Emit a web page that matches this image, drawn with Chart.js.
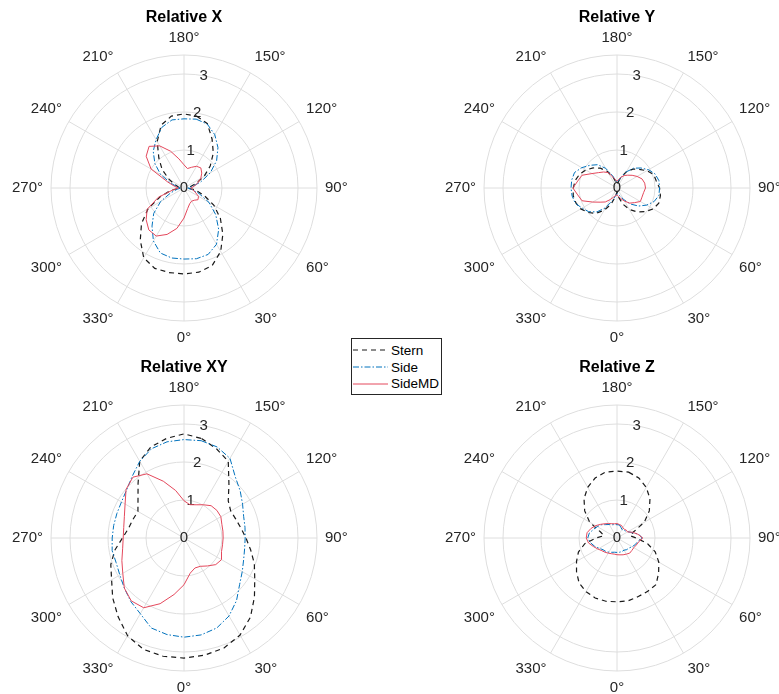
<!DOCTYPE html>
<html>
<head>
<meta charset="utf-8">
<script src="https://cdn.jsdelivr.net/npm/chart.js@4.4.1/dist/chart.umd.min.js"></script>
<style>
    body {
        margin: 0;
        width: 779px;
        height: 694px;
        overflow: hidden;
        position: relative;
        background: #fff;
        font-family: 'Liberation Sans', Arial, sans-serif;
    }
    canvas { position: absolute; }
    #legend {
        position: absolute;
        left: 351px;
        top: 338px;
        width: 91px;
        height: 57px;
        box-sizing: border-box;
        border: 1px solid #262626;
        background: #fff;
        padding-top: 3px;
        z-index: 5;
    }
    #legend .row {
        display: flex;
        align-items: center;
        height: 16.7px;
        font-size: 13.5px;
        color: #000;
    }
    #legend svg { display: block; margin-right: 2px; }
</style>
</head>
<body>
<canvas id="relX" width="400" height="348" style="left:-16px;top:0px"></canvas>
<canvas id="relY" width="400" height="348" style="left:417px;top:0px"></canvas>
<canvas id="relXY" width="400" height="348" style="left:-16px;top:350px"></canvas>
<canvas id="relZ" width="400" height="348" style="left:417px;top:350px"></canvas>
<div id="legend"></div>

<script>
// sample angles in degrees (0 = bottom, 90 = right, 180 = top)
const angles = [0, 10, 20, 30, 40, 50, 60, 70, 80, 90, 100, 110, 120, 130, 140, 150, 160, 170,
                180, 190, 200, 210, 220, 230, 240, 250, 260, 270, 280, 290, 300, 310, 320, 330, 340, 350];
const angleTicks = [0, 30, 60, 90, 120, 150, 180, 210, 240, 270, 300, 330];
const radiusTicks = [0, 1, 2, 3];
const radiusMax = 3.5;

const seriesNames = ['Stern', 'Side', 'SideMD'];

// Relative X
const xStern  = [2.26, 2.25, 2.17, 1.93, 1.59, 1.25, 0.91, 0.56, 0.30, 0.10, 0.15, 0.33, 0.61, 0.90, 1.20, 1.48, 1.80, 1.92,
                 1.95, 1.92, 1.76, 1.41, 1.03, 0.75, 0.45, 0.25, 0.15, 0.10, 0.35, 0.66, 1.09, 1.46, 1.79, 2.12, 2.25, 2.26];
const xSide   = [1.87, 1.89, 1.86, 1.71, 1.42, 1.09, 0.76, 0.42, 0.20, 0.10, 0.22, 0.47, 0.80, 1.12, 1.39, 1.62, 1.79, 1.84,
                 1.82, 1.82, 1.70, 1.47, 1.26, 1.00, 0.71, 0.37, 0.18, 0.08, 0.18, 0.37, 0.71, 1.04, 1.31, 1.61, 1.82, 1.87];
const xSideMD = [0.79, 0.55, 0.44, 0.40, 0.42, 0.48, 0.44, 0.31, 0.22, 0.18, 0.28, 0.38, 0.51, 0.61, 0.69, 0.66, 0.58, 0.52,
                 0.61, 0.78, 1.03, 1.28, 1.43, 1.30, 1.00, 0.45, 0.25, 0.15, 0.30, 0.72, 1.12, 1.30, 1.44, 1.46, 1.30, 1.08];

// Relative Y
const yStern  = [0.10, 0.25, 0.45, 0.65, 0.82, 0.97, 1.10, 1.17, 1.16, 1.12, 1.05, 1.03, 0.91, 0.76, 0.65, 0.49, 0.30, 0.15,
                 0.10, 0.15, 0.30, 0.50, 0.68, 0.82, 0.95, 1.05, 1.12, 1.15, 1.17, 1.15, 1.10, 1.00, 0.87, 0.68, 0.45, 0.22];
const ySide   = [0.15, 0.16, 0.22, 0.35, 0.55, 0.74, 0.90, 1.04, 1.12, 1.12, 1.12, 1.07, 0.96, 0.82, 0.68, 0.49, 0.30, 0.18,
                 0.15, 0.20, 0.35, 0.60, 0.80, 0.93, 1.07, 1.19, 1.21, 1.21, 1.20, 1.17, 1.06, 0.97, 0.82, 0.60, 0.35, 0.20];
const ySideMD = [0.18, 0.22, 0.30, 0.40, 0.52, 0.60, 0.71, 0.70, 0.71, 0.75, 0.74, 0.70, 0.61, 0.52, 0.44, 0.38, 0.30, 0.22,
                 0.18, 0.22, 0.30, 0.47, 0.55, 0.63, 0.76, 0.98, 1.05, 1.16, 1.05, 0.98, 0.74, 0.58, 0.48, 0.35, 0.25, 0.20];

// Relative XY
const xyStern  = [3.16, 3.13, 3.08, 2.95, 2.72, 2.42, 2.15, 1.97, 1.78, 1.63, 1.52, 1.45, 1.42, 1.52, 1.84, 2.33, 2.50, 2.66,
                  2.74, 2.66, 2.55, 2.33, 1.88, 1.58, 1.40, 1.43, 1.48, 1.62, 1.85, 2.05, 2.20, 2.45, 2.70, 2.97, 3.12, 3.16];
const xySide   = [2.61, 2.59, 2.52, 2.37, 2.15, 1.91, 1.77, 1.67, 1.62, 1.61, 1.63, 1.67, 1.78, 1.93, 2.10, 2.42, 2.55, 2.60,
                  2.59, 2.57, 2.50, 2.33, 2.12, 1.97, 1.90, 1.88, 1.88, 1.89, 1.92, 1.90, 1.95, 2.05, 2.18, 2.30, 2.52, 2.58];
const xySideMD = [1.23, 0.94, 0.84, 0.86, 0.96, 1.09, 1.14, 1.05, 1.03, 1.03, 1.04, 1.06, 1.12, 1.13, 1.11, 1.01, 0.93, 0.89,
                  0.98, 1.27, 1.59, 1.95, 2.09, 1.99, 1.79, 1.67, 1.61, 1.60, 1.64, 1.74, 1.86, 2.05, 2.16, 2.12, 1.84, 1.51];

// Relative Z
const zStern  = [1.68, 1.68, 1.64, 1.62, 1.60, 1.43, 1.27, 1.07, 0.81, 0.50, 0.35, 0.46, 0.83, 1.11, 1.35, 1.54, 1.68, 1.76,
                 1.76, 1.76, 1.68, 1.54, 1.35, 1.11, 0.83, 0.46, 0.35, 0.55, 0.86, 1.08, 1.23, 1.39, 1.55, 1.63, 1.68, 1.69];
const zSide   = [0.38, 0.38, 0.38, 0.37, 0.40, 0.41, 0.46, 0.51, 0.55, 0.66, 0.58, 0.42, 0.33, 0.29, 0.27, 0.26, 0.30, 0.35,
                 0.35, 0.36, 0.37, 0.41, 0.46, 0.54, 0.60, 0.66, 0.74, 0.77, 0.71, 0.63, 0.54, 0.48, 0.46, 0.43, 0.40, 0.38];
const zSideMD = [0.44, 0.45, 0.47, 0.49, 0.52, 0.51, 0.51, 0.54, 0.58, 0.68, 0.56, 0.44, 0.32, 0.32, 0.30, 0.31, 0.35, 0.36,
                 0.38, 0.38, 0.40, 0.44, 0.49, 0.56, 0.65, 0.73, 0.80, 0.81, 0.76, 0.66, 0.58, 0.52, 0.49, 0.46, 0.44, 0.43];

const lineColors = ['#1a1a1a', '#0072BD', '#E4485C'];
const lineDashes = [[5, 4], [6, 2, 1.5, 2], []];
const lineWidths = [1.2, 1, 1];
const gridColor = '#dedede';
const textColor = '#262626';
const fontFamily = "'Liberation Sans', Arial, sans-serif";

Chart.defaults.font.family = fontFamily;

// radar goes clockwise from the top; the first spoke sits 10deg right of top (170deg)
// and the radius labels run along it, like the original
const spokeAngles = angles.map((a, i) => (170 - 10 * i + 360) % 360);
const spokeLabels = spokeAngles.map(a => a + '°');

function reorder(values) {
    return spokeAngles.map(a => values[angles.indexOf(a)]);
}

// upright radius labels along the first spoke (built-in ones get rotated with startAngle)
const radiusLabels = {
    id: 'radiusLabels',
    beforeDatasetsDraw(chart) {
        const scale = chart.scales.r;
        const ctx = chart.ctx;
        ctx.save();
        ctx.font = '15px ' + fontFamily;
        ctx.fillStyle = textColor;
        ctx.textAlign = 'center';
        ctx.textBaseline = 'middle';
        radiusTicks.forEach(v => {
            const p = scale.getPointPosition(0, scale.getDistanceFromCenterForValue(v));
            ctx.fillText(String(v), p.x, p.y);
        });
        ctx.restore();
    }
};

function makePolar(id, title, series) {
    var ctx = document.getElementById(id).getContext('2d');
    return new Chart(ctx, {
        type: 'radar',
        data: {
            labels: spokeLabels,
            datasets: series.map((values, i) => ({
                label: seriesNames[i],
                data: reorder(values),
                borderColor: lineColors[i],
                borderDash: lineDashes[i],
                borderWidth: lineWidths[i],
                backgroundColor: 'rgba(0,0,0,0)',
                fill: false,
                pointRadius: 0,
                pointHoverRadius: 0,
                tension: 0,
                order: 2 - i
            }))
        },
        plugins: [radiusLabels],
        options: {
            responsive: false,
            animation: false,
            events: [],
            plugins: {
                legend: { display: false },
                tooltip: { enabled: false },
                title: {
                    display: true,
                    text: title,
                    color: '#000',
                    font: { size: 16, weight: 'bold' },
                    padding: { top: 8, bottom: 1.8 }
                }
            },
            scales: {
                r: {
                    min: 0,
                    max: radiusMax,
                    startAngle: 10,
                    // rings only at the labelled values and at the outer edge
                    afterBuildTicks: function(scale) {
                        scale.ticks = radiusTicks.concat([radiusMax]).map(v => ({ value: v }));
                    },
                    grid: {
                        circular: true,
                        color: gridColor,
                        lineWidth: 1
                    },
                    angleLines: {
                        color: function(c) {
                            return c.label ? gridColor : 'rgba(0,0,0,0)';
                        },
                        lineWidth: 1
                    },
                    pointLabels: {
                        display: true,
                        padding: 8,
                        color: textColor,
                        font: { size: 15 },
                        callback: function(label) {
                            return angleTicks.includes(parseInt(label)) ? label : '';
                        }
                    },
                    ticks: { display: false }
                }
            }
        }
    });
}

makePolar('relX', 'Relative X', [xStern, xSide, xSideMD]);
makePolar('relY', 'Relative Y', [yStern, ySide, ySideMD]);
makePolar('relXY', 'Relative XY', [xyStern, xySide, xySideMD]);
makePolar('relZ', 'Relative Z', [zStern, zSide, zSideMD]);

// shared legend in the middle
var legend = document.getElementById('legend');
seriesNames.forEach((name, i) => {
    var row = document.createElement('div');
    row.className = 'row';
    row.innerHTML = '<svg width="37" height="10"><line x1="1" y1="5" x2="36" y2="5" stroke="' + lineColors[i] +
        '" stroke-width="' + lineWidths[i] + '" stroke-dasharray="' + (lineDashes[i].join(',') || 'none') + '"/></svg>' +
        '<span>' + name + '</span>';
    legend.appendChild(row);
});
</script>
</body>
</html>
